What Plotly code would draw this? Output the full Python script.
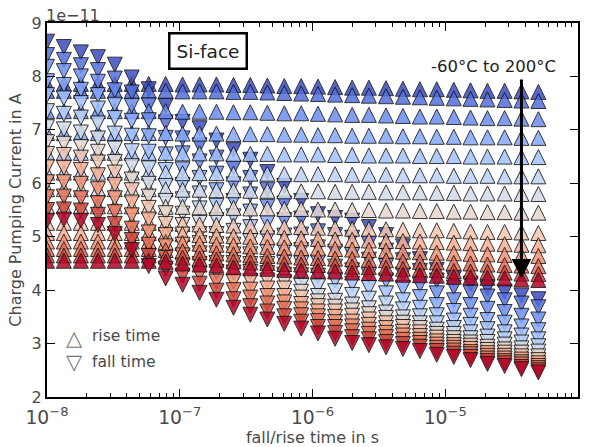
import math
import plotly.graph_objects as go

# fall / rise time of the gate pulse (s)
time_s = [1.00e-8, 1.34e-8, 1.80e-8, 2.42e-8, 3.24e-8, 4.35e-8, 5.84e-8, 7.83e-8,
          1.05e-7, 1.41e-7, 1.89e-7, 2.54e-7, 3.40e-7, 4.57e-7, 6.13e-7, 8.22e-7,
          1.10e-6, 1.48e-6, 1.99e-6, 2.66e-6, 3.58e-6, 4.80e-6, 6.44e-6, 8.63e-6,
          1.16e-5, 1.55e-5, 2.08e-5, 2.80e-5, 3.75e-5, 5.03e-5]

temperatures_c = [-60, -40, -20, 0, 20, 40, 60, 80, 100, 120, 140, 160, 180, 200]

# charge pumping current vs. rise time (units of 1e-11 A)
rise_n60 = [7.86, 7.86, 7.86, 7.86, 7.86, 7.86, 7.86, 7.86, 7.85, 7.85, 7.85, 7.84, 7.84, 7.83, 7.82,
            7.82, 7.81, 7.80, 7.79, 7.79, 7.78, 7.77, 7.76, 7.76, 7.75, 7.74, 7.73, 7.73, 7.72, 7.71]
rise_n40 = [7.73, 7.73, 7.73, 7.73, 7.73, 7.73, 7.73, 7.73, 7.72, 7.72, 7.72, 7.71, 7.71, 7.70, 7.69,
            7.68, 7.67, 7.66, 7.65, 7.64, 7.63, 7.62, 7.61, 7.60, 7.59, 7.58, 7.57, 7.56, 7.55, 7.54]
rise_n20 = [7.35, 7.35, 7.35, 7.35, 7.35, 7.35, 7.35, 7.35, 7.34, 7.34, 7.34, 7.33, 7.33, 7.32, 7.31,
            7.31, 7.30, 7.29, 7.28, 7.28, 7.27, 7.26, 7.25, 7.25, 7.24, 7.23, 7.22, 7.22, 7.21, 7.20]
rise_0 = [6.94, 6.94, 6.94, 6.94, 6.94, 6.94, 6.94, 6.94, 6.93, 6.93, 6.93, 6.92, 6.92, 6.92, 6.91,
          6.91, 6.90, 6.90, 6.89, 6.89, 6.89, 6.88, 6.88, 6.87, 6.87, 6.86, 6.86, 6.86, 6.85, 6.85]
rise_20 = [6.57, 6.57, 6.57, 6.57, 6.57, 6.57, 6.57, 6.57, 6.56, 6.56, 6.56, 6.55, 6.55, 6.55, 6.54,
           6.54, 6.54, 6.53, 6.53, 6.52, 6.52, 6.52, 6.51, 6.51, 6.51, 6.50, 6.50, 6.50, 6.49, 6.49]
rise_40 = [6.20, 6.20, 6.20, 6.20, 6.20, 6.20, 6.20, 6.20, 6.19, 6.19, 6.19, 6.18, 6.18, 6.18, 6.17,
           6.17, 6.17, 6.17, 6.16, 6.16, 6.16, 6.15, 6.15, 6.15, 6.14, 6.14, 6.14, 6.13, 6.13, 6.13]
rise_60 = [5.89, 5.89, 5.89, 5.89, 5.89, 5.89, 5.89, 5.89, 5.88, 5.88, 5.87, 5.87, 5.86, 5.86, 5.85,
           5.85, 5.85, 5.84, 5.84, 5.84, 5.83, 5.83, 5.83, 5.82, 5.82, 5.81, 5.81, 5.81, 5.80, 5.80]
rise_80 = [5.57, 5.57, 5.57, 5.57, 5.57, 5.57, 5.57, 5.56, 5.56, 5.55, 5.54, 5.54, 5.53, 5.53, 5.52,
           5.52, 5.51, 5.51, 5.50, 5.50, 5.49, 5.49, 5.48, 5.48, 5.47, 5.47, 5.46, 5.46, 5.45, 5.45]
rise_100 = [5.26, 5.26, 5.26, 5.26, 5.26, 5.26, 5.26, 5.25, 5.24, 5.23, 5.22, 5.21, 5.20, 5.19, 5.18,
            5.18, 5.17, 5.16, 5.15, 5.15, 5.14, 5.13, 5.12, 5.12, 5.11, 5.10, 5.09, 5.09, 5.08, 5.07]
rise_120 = [5.07, 5.07, 5.07, 5.07, 5.07, 5.07, 5.07, 5.06, 5.05, 5.03, 5.02, 5.01, 5.00, 4.99, 4.98,
            4.97, 4.96, 4.95, 4.94, 4.93, 4.92, 4.92, 4.91, 4.90, 4.89, 4.88, 4.87, 4.86, 4.85, 4.84]
rise_140 = [4.91, 4.91, 4.91, 4.91, 4.91, 4.91, 4.91, 4.90, 4.88, 4.87, 4.85, 4.84, 4.82, 4.81, 4.80,
            4.79, 4.78, 4.77, 4.76, 4.75, 4.74, 4.72, 4.71, 4.70, 4.69, 4.68, 4.67, 4.66, 4.65, 4.64]
rise_160 = [4.77, 4.77, 4.77, 4.77, 4.77, 4.77, 4.77, 4.75, 4.73, 4.71, 4.69, 4.67, 4.65, 4.64, 4.63,
            4.61, 4.60, 4.59, 4.58, 4.57, 4.56, 4.54, 4.53, 4.52, 4.51, 4.50, 4.48, 4.47, 4.46, 4.45]
rise_180 = [4.65, 4.65, 4.65, 4.65, 4.65, 4.65, 4.65, 4.63, 4.61, 4.59, 4.57, 4.54, 4.52, 4.51, 4.49,
            4.48, 4.47, 4.46, 4.44, 4.43, 4.42, 4.40, 4.39, 4.38, 4.36, 4.35, 4.34, 4.33, 4.31, 4.30]
rise_200 = [4.55, 4.55, 4.55, 4.55, 4.55, 4.55, 4.55, 4.53, 4.50, 4.48, 4.46, 4.43, 4.41, 4.40, 4.38,
            4.37, 4.36, 4.35, 4.33, 4.32, 4.31, 4.29, 4.28, 4.27, 4.25, 4.24, 4.23, 4.22, 4.20, 4.19]

# charge pumping current vs. fall time (units of 1e-11 A)
fall_n60 = [8.65, 8.55, 8.45, 8.36, 8.22, 7.98, 7.76, 7.45, 7.15, 7.03, 6.80, 6.62, 6.44, 6.21, 5.95,
            5.67, 5.42, 5.35, 5.30, 5.18, 5.03, 4.82, 4.58, 4.38, 4.22, 4.12, 4.04, 3.97, 3.90, 3.83]
fall_n40 = [8.40, 8.31, 8.21, 8.12, 7.96, 7.70, 7.46, 7.14, 6.84, 6.71, 6.48, 6.29, 6.10, 5.88, 5.62,
            5.34, 5.10, 5.03, 4.98, 4.87, 4.74, 4.56, 4.36, 4.18, 4.05, 3.95, 3.88, 3.81, 3.75, 3.68]
fall_n20 = [8.18, 8.10, 8.00, 7.90, 7.74, 7.45, 7.18, 6.85, 6.56, 6.41, 6.18, 5.98, 5.79, 5.56, 5.31,
            5.04, 4.80, 4.72, 4.66, 4.57, 4.45, 4.29, 4.10, 3.94, 3.81, 3.72, 3.65, 3.59, 3.52, 3.45]
fall_0 = [7.91, 7.84, 7.75, 7.65, 7.47, 7.17, 6.88, 6.54, 6.26, 6.10, 5.87, 5.67, 5.47, 5.26, 5.02,
          4.75, 4.52, 4.44, 4.37, 4.28, 4.18, 4.04, 3.87, 3.72, 3.61, 3.52, 3.44, 3.39, 3.32, 3.25]
fall_20 = [7.65, 7.59, 7.50, 7.40, 7.22, 6.89, 6.59, 6.25, 5.97, 5.81, 5.58, 5.38, 5.18, 4.97, 4.74,
           4.50, 4.27, 4.18, 4.12, 4.04, 3.94, 3.81, 3.67, 3.53, 3.43, 3.35, 3.27, 3.21, 3.15, 3.08]
fall_40 = [7.35, 7.30, 7.23, 7.12, 6.93, 6.60, 6.28, 5.95, 5.70, 5.53, 5.31, 5.11, 4.92, 4.72, 4.51,
           4.28, 4.07, 3.98, 3.91, 3.84, 3.75, 3.64, 3.51, 3.38, 3.29, 3.21, 3.13, 3.08, 3.02, 2.95]
fall_60 = [7.05, 7.01, 6.95, 6.84, 6.65, 6.32, 5.99, 5.67, 5.43, 5.26, 5.05, 4.85, 4.67, 4.49, 4.29,
           4.08, 3.89, 3.80, 3.73, 3.66, 3.58, 3.49, 3.38, 3.26, 3.18, 3.10, 3.03, 2.98, 2.91, 2.85]
fall_80 = [6.77, 6.74, 6.68, 6.59, 6.40, 6.07, 5.75, 5.44, 5.22, 5.05, 4.86, 4.67, 4.49, 4.32, 4.15,
           3.97, 3.79, 3.69, 3.62, 3.55, 3.48, 3.39, 3.29, 3.18, 3.10, 3.02, 2.94, 2.89, 2.83, 2.76]
fall_100 = [6.55, 6.53, 6.48, 6.39, 6.20, 5.87, 5.54, 5.24, 5.04, 4.88, 4.69, 4.51, 4.34, 4.18, 4.03,
            3.86, 3.70, 3.60, 3.52, 3.45, 3.38, 3.31, 3.21, 3.11, 3.03, 2.96, 2.88, 2.83, 2.76, 2.69]
fall_120 = [6.30, 6.29, 6.25, 6.15, 5.97, 5.64, 5.32, 5.03, 4.85, 4.69, 4.51, 4.33, 4.17, 4.03, 3.89,
            3.74, 3.60, 3.50, 3.41, 3.35, 3.29, 3.22, 3.14, 3.04, 2.97, 2.90, 2.82, 2.77, 2.70, 2.63]
fall_140 = [6.02, 6.02, 5.99, 5.89, 5.72, 5.40, 5.08, 4.82, 4.65, 4.49, 4.34, 4.16, 4.01, 3.89, 3.77,
            3.64, 3.51, 3.40, 3.32, 3.26, 3.20, 3.15, 3.07, 2.98, 2.92, 2.84, 2.77, 2.72, 2.65, 2.58]
fall_160 = [5.74, 5.75, 5.72, 5.63, 5.46, 5.15, 4.85, 4.60, 4.46, 4.30, 4.16, 4.00, 3.86, 3.75, 3.65,
            3.53, 3.42, 3.31, 3.23, 3.18, 3.12, 3.07, 3.01, 2.92, 2.87, 2.80, 2.72, 2.67, 2.61, 2.54]
fall_180 = [5.50, 5.51, 5.49, 5.41, 5.24, 4.94, 4.64, 4.40, 4.27, 4.12, 3.99, 3.83, 3.70, 3.60, 3.51,
            3.41, 3.31, 3.20, 3.12, 3.08, 3.03, 2.99, 2.94, 2.86, 2.81, 2.75, 2.67, 2.63, 2.56, 2.50]
fall_200 = [5.30, 5.32, 5.30, 5.22, 5.05, 4.75, 4.45, 4.22, 4.10, 3.95, 3.82, 3.67, 3.54, 3.45, 3.37,
            3.28, 3.19, 3.09, 3.01, 2.97, 2.93, 2.90, 2.86, 2.79, 2.75, 2.69, 2.62, 2.58, 2.52, 2.46]

rise_curves = [rise_n60, rise_n40, rise_n20, rise_0, rise_20, rise_40, rise_60,
               rise_80, rise_100, rise_120, rise_140, rise_160, rise_180, rise_200]
fall_curves = [fall_n60, fall_n40, fall_n20, fall_0, fall_20, fall_40, fall_60,
               fall_80, fall_100, fall_120, fall_140, fall_160, fall_180, fall_200]

# coolwarm colour for each temperature, cold -> hot
temp_colors = ["#3b4cc0", "#526edc", "#6b8df0", "#86a9fc", "#a1c1ff", "#bbd2f7", "#d3dbe8",
               "#e7d7ce", "#f4c6b1", "#f7af92", "#f29274", "#e46f57", "#d0463d", "#b40426"]

MARKER_SIZE = 15
TEXT_COLOR = "#4a4a4a"
FONT = "DejaVu Sans"


def triangle_marker(color, pointing_up):
    # equal width/height triangle centred on the data point
    return dict(
        symbol="arrow-down",
        angle=180 if pointing_up else 0,
        standoff=MARKER_SIZE / 2,
        size=MARKER_SIZE,
        color=color,
        opacity=0.85,
        line=dict(color="#111111", width=1),
    )


fig = go.Figure()
for temp, color, rise, fall in zip(temperatures_c, temp_colors, rise_curves, fall_curves):
    fig.add_trace(go.Scatter(
        x=time_s, y=rise, mode="markers", name=f"rise {temp} °C",
        marker=triangle_marker(color, True), showlegend=False,
    ))
    fig.add_trace(go.Scatter(
        x=time_s, y=fall, mode="markers", name=f"fall {temp} °C",
        marker=triangle_marker(color, False), showlegend=False,
    ))

arrow_time = 3.75e-5
arrow_top = 7.97
arrow_tip = 4.22


def paper_text(text, x, y, size, color=TEXT_COLOR, xanchor="center", **extra):
    return dict(text=text, x=x, y=y, xref="paper", yref="paper", xanchor=xanchor,
                yanchor="middle", showarrow=False,
                font=dict(size=size, color=color, family=FONT), **extra)


annotations = [
    paper_text("1e\u221211", -0.006, 1.02, 16, xanchor="left"),
    paper_text("Si-face", 0.304, 0.925, 18.5, color="#222222",
               bgcolor="white", bordercolor="black", borderwidth=2.5, borderpad=6),
    paper_text("-60°C to 200°C", 0.84, 0.885, 16.5, color="#222222"),
    dict(text="", x=math.log10(arrow_time), y=arrow_tip, ax=math.log10(arrow_time), ay=arrow_top,
         xref="x", yref="y", axref="x", ayref="y", showarrow=True,
         arrowhead=2, arrowsize=1.3, arrowwidth=3, arrowcolor="black"),
    paper_text("\u25b3", 0.051, 0.158, 21, color="#777777"),
    paper_text("rise time", 0.081, 0.164, 15.5, xanchor="left"),
    paper_text("\u25bd", 0.051, 0.094, 21, color="#777777"),
    paper_text("fall time", 0.081, 0.094, 15.5, xanchor="left"),
]

fig.update_layout(
    width=592, height=447,
    margin=dict(l=47, r=14, t=23, b=50),
    paper_bgcolor="white", plot_bgcolor="white",
    font=dict(family=FONT, size=16, color=TEXT_COLOR),
    annotations=annotations,
    showlegend=False,
)
fig.update_xaxes(
    type="log", range=[-8, -4], dtick=1, exponentformat="power",
    showgrid=False, zeroline=False, automargin=False,
    showline=True, linecolor="black", linewidth=2, mirror="ticks",
    ticks="inside", ticklen=8, tickwidth=1, tickcolor="black",
    minor=dict(ticks="inside", ticklen=4, tickwidth=1, tickcolor="black"),
    tickfont=dict(size=15, color=TEXT_COLOR), ticklabelstandoff=3,
    title=dict(text="fall/rise time in s", standoff=7, font=dict(size=16, color=TEXT_COLOR)),
)
fig.update_yaxes(
    range=[2, 9], dtick=1,
    showgrid=False, zeroline=False, automargin=False,
    showline=True, linecolor="black", linewidth=2, mirror="ticks",
    ticks="inside", ticklen=8, tickwidth=1, tickcolor="black",
    tickfont=dict(size=16, color=TEXT_COLOR),
    title=dict(text="Charge Pumping Current in A", standoff=6, font=dict(size=16, color=TEXT_COLOR)),
)

fig.write_html("out.html")
